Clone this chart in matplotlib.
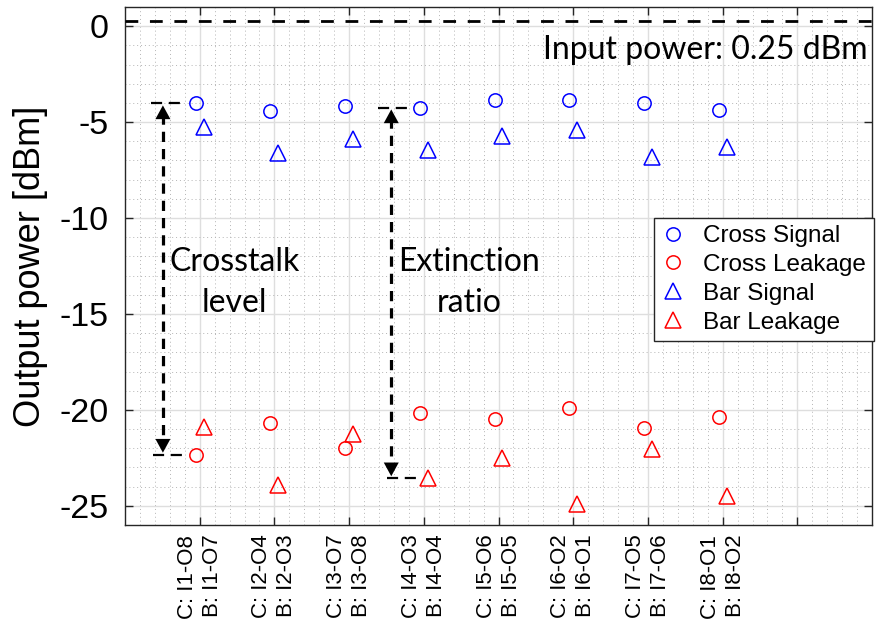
import matplotlib
matplotlib.use("Agg")
import matplotlib.pyplot as plt
import numpy as np
from matplotlib.ticker import MultipleLocator

# Port pairs: cross-state and bar-state outputs for each input port
groups = [1, 2, 3, 4, 5, 6, 7, 8]
cross_labels = ["C: I1-O8", "C: I2-O4", "C: I3-O7", "C: I4-O3",
                "C: I5-O6", "C: I6-O2", "C: I7-O5", "C: I8-O1"]
bar_labels = ["B: I1-O7", "B: I2-O3", "B: I3-O8", "B: I4-O4",
              "B: I5-O5", "B: I6-O1", "B: I7-O6", "B: I8-O2"]

# Measured output power [dBm]
cross_signal = [-4.03, -4.41, -4.17, -4.24, -3.85, -3.87, -4.00, -4.39]
cross_leakage = [-22.33, -20.68, -22.00, -20.14, -20.50, -19.90, -20.92, -20.35]
bar_signal = [-5.24, -6.63, -5.87, -6.43, -5.75, -5.39, -6.83, -6.28]
bar_leakage = [-20.90, -23.91, -21.25, -23.56, -22.49, -24.90, -22.05, -24.48]

input_power = 0.25

LABEL_FONT = ["Liberation Sans", "DejaVu Sans"]
NOTE_FONT = ["Lato", "DejaVu Sans"]

fig = plt.figure(figsize=(8.78, 6.23), dpi=100)
ax = fig.add_axes([0.1424, 0.1573, 0.8508, 0.8315])

x = np.array(groups, dtype=float)
off = 0.053
mk = dict(linestyle="none", markerfacecolor="none", markeredgewidth=1.1)

ax.plot(x - off, cross_signal, marker="o", ms=9.6, color="#0000ff",
        label="Cross Signal", **mk)
ax.plot(x - off, cross_leakage, marker="o", ms=9.6, color="#ff0000",
        label="Cross Leakage", **mk)
ax.plot(x + off, bar_signal, marker="^", ms=11, color="#0000ff",
        label="Bar Signal", **mk)
ax.plot(x + off, bar_leakage, marker="^", ms=11, color="#ff0000",
        label="Bar Leakage", **mk)

# Input power reference line
ax.axhline(input_power, color="k", lw=2.0, linestyle=(0, (4.6, 4.2)), zorder=3)
ax.text(0.994, 0.917, "Input power: 0.25 dBm", transform=ax.transAxes,
        ha="right", va="center", fontsize=23, family=NOTE_FONT)


def bracket(xv, y_top, y_bot, top_span, bot_span):
    dash_h = dict(color="k", lw=1.6, linestyle=(0, (5, 3)), zorder=3)
    ax.plot(top_span, [y_top, y_top], **dash_h)
    ax.plot(bot_span, [y_bot, y_bot], **dash_h)
    ax.plot([xv, xv], [y_top - 0.55, y_bot + 0.55], color="k", lw=2.3,
            linestyle=(0, (3.2, 2.2)), zorder=3)
    head = dict(arrowstyle="-|>,head_length=0.55,head_width=0.3",
                color="k", lw=0, mutation_scale=18, shrinkA=0, shrinkB=0)
    ax.annotate("", xy=(xv, y_top - 0.1), xytext=(xv, y_top - 0.7),
                arrowprops=head, zorder=4)
    ax.annotate("", xy=(xv, y_bot + 0.1), xytext=(xv, y_bot + 0.7),
                arrowprops=head, zorder=4)


# Crosstalk level: cross signal vs. cross leakage of port 1
bracket(0.507, cross_signal[0], cross_leakage[0], [0.342, 0.822], [0.369, 0.84])
# Extinction ratio: cross signal vs. bar leakage of port 4
bracket(3.564, cross_signal[3], bar_leakage[3], [3.39, 3.84], [3.507, 3.977])

ax.text(1.47, -13.36, "Crosstalk\nlevel", ha="center", va="center",
        fontsize=23, family=NOTE_FONT, linespacing=1.45)
ax.text(4.61, -13.36, "Extinction\nratio", ha="center", va="center",
        fontsize=23, family=NOTE_FONT, linespacing=1.45)

# Axes, ticks and grid
ax.set_xlim(0, 10)
ax.set_ylim(-26, 1)
ax.set_xticks(groups + [9])
ax.set_xticklabels([f"{c}\n{b}" for c, b in zip(cross_labels, bar_labels)] + [""],
                   rotation=90, fontsize=16, family=LABEL_FONT,
                   linespacing=1.25, multialignment="right")
ax.set_yticks([0, -5, -10, -15, -20, -25])
ax.set_yticklabels(["0", "-5", "-10", "-15", "-20", "-25"],
                   fontsize=24.5, family=LABEL_FONT)
ax.xaxis.set_minor_locator(MultipleLocator(0.2))
ax.yaxis.set_minor_locator(MultipleLocator(1))
ax.tick_params(which="major", direction="in", length=6, width=1.0,
               top=True, right=True, pad=7, color="#262626")
ax.tick_params(axis="y", which="major", pad=12)
ax.tick_params(which="minor", length=0)
ax.grid(which="major", color="#dedede", lw=1.0, linestyle="-")
ax.grid(which="minor", color="#b4b4b4", lw=0.7, linestyle=(0, (1, 3)))
ax.set_axisbelow(True)
for s in ax.spines.values():
    s.set_linewidth(1.0)
    s.set_color("#262626")

ax.set_ylabel("Output power [dBm]", fontsize=26, family=LABEL_FONT, labelpad=8)

leg = ax.legend(loc="upper right", bbox_to_anchor=(1.002, 0.593),
                borderaxespad=0, fancybox=False, framealpha=1,
                edgecolor="#262626", prop={"family": LABEL_FONT, "size": 17.5},
                labelspacing=0.28, handlelength=1.0, handletextpad=0.75,
                borderpad=0.3, markerscale=1.0)
leg.get_frame().set_linewidth(1.0)

fig.savefig("out.png", dpi=100)
